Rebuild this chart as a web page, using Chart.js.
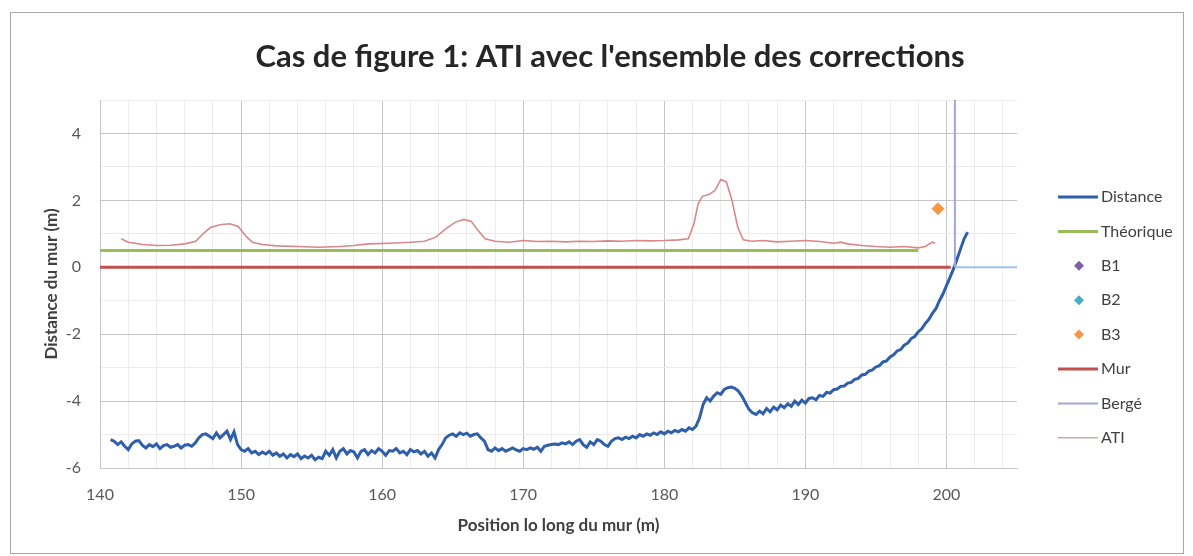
<!DOCTYPE html>
<html lang="fr">
<head>
<meta charset="utf-8">
<title>Cas de figure 1</title>
<script src="https://cdn.jsdelivr.net/npm/chart.js@4.4.1/dist/chart.umd.min.js"></script>
<style>
  html, body { margin: 0; padding: 0; background: #fff; }
  #cadre { position: relative; width: 1193px; height: 556px; }
  #bord { position: absolute; left: 10px; top: 12px; width: 1172px; height: 540px; border: 1px solid #a6a6a6; pointer-events: none; }
  canvas { position: absolute; left: 0; top: 0; }
</style>
</head>
<body>
<div id="cadre">
  <canvas id="graphATI" width="1193" height="556"></canvas>
  <div id="bord"></div>
</div>
<script>
// Distance mesurée : un point tous les 0.25 m à partir de 140.75 m (4 valeurs par ligne)
const distDebut = 140.75;
const distPas = 0.25;
const distValeurs = [
  -5.15, -5.2, -5.3, -5.22,
  -5.35, -5.45, -5.28, -5.2,
  -5.18, -5.32, -5.4, -5.3,
  -5.36, -5.28, -5.42, -5.33,
  -5.3, -5.38, -5.35, -5.3,
  -5.4, -5.32, -5.3, -5.35,
  -5.25, -5.1, -5.0, -4.98,
  -5.05, -5.12, -4.95, -5.1,
  -5.0, -4.9, -5.15, -4.92,
  -5.3, -5.45, -5.5, -5.42,
  -5.55, -5.5, -5.6, -5.52,
  -5.58, -5.5, -5.62, -5.55,
  -5.65, -5.58, -5.7, -5.6,
  -5.66, -5.58, -5.72, -5.64,
  -5.7, -5.62, -5.75, -5.68,
  -5.72, -5.5, -5.62, -5.45,
  -5.7, -5.5, -5.42, -5.58,
  -5.48, -5.52, -5.7, -5.5,
  -5.45, -5.6, -5.48, -5.55,
  -5.42, -5.5, -5.62, -5.48,
  -5.5, -5.42, -5.55, -5.5,
  -5.6, -5.45, -5.52, -5.48,
  -5.58, -5.5, -5.65, -5.55,
  -5.7, -5.45, -5.3, -5.1,
  -5.02, -4.98, -5.05, -4.95,
  -5.0, -4.96, -5.05, -5.0,
  -4.98, -5.1, -5.2, -5.45,
  -5.5, -5.4, -5.48, -5.42,
  -5.5, -5.45, -5.4, -5.46,
  -5.5, -5.42, -5.45, -5.4,
  -5.44, -5.38, -5.5, -5.35,
  -5.32, -5.3, -5.28, -5.3,
  -5.25, -5.28, -5.22, -5.3,
  -5.2, -5.15, -5.3, -5.38,
  -5.22, -5.3, -5.15, -5.2,
  -5.3, -5.35, -5.2, -5.12,
  -5.1, -5.15, -5.08, -5.12,
  -5.05, -5.1, -5.0, -5.05,
  -4.98, -5.02, -4.95, -5.0,
  -4.92, -4.98, -4.9, -4.95,
  -4.88, -4.92, -4.85, -4.9,
  -4.8, -4.85, -4.75, -4.5,
  -4.1, -3.9, -4.0, -3.85,
  -3.75, -3.8, -3.65, -3.6,
  -3.58, -3.62, -3.7, -3.85,
  -4.05, -4.25, -4.35, -4.4,
  -4.3, -4.38, -4.22, -4.32,
  -4.18, -4.26, -4.12, -4.2,
  -4.08, -4.16, -4.0, -4.1,
  -3.97, -4.06, -3.92, -3.9,
  -3.96, -3.83, -3.86, -3.74,
  -3.76, -3.66, -3.64, -3.56,
  -3.55, -3.46, -3.44, -3.35,
  -3.32, -3.22, -3.2, -3.1,
  -3.07, -2.98, -2.94, -2.83,
  -2.8, -2.68, -2.62, -2.5,
  -2.46, -2.33, -2.27, -2.13,
  -2.07, -1.93, -1.84, -1.68,
  -1.56, -1.38, -1.24, -1.0,
  -0.8, -0.55, -0.3, -0.05,
  0.25, 0.55, 0.85, 1.05
];

// ATI corrigé
const atiX = [141.5, 142, 142.5, 143, 144, 145, 146, 146.8, 147.3, 147.8, 148.5, 149.2, 149.8, 150.3, 150.8,
  151.5, 152.5, 154, 155.5, 157, 158, 159, 160.5, 162, 163, 163.8, 164.5, 165.2, 165.8, 166.3, 166.8,
  167.3, 168, 169, 170, 171, 172, 173, 174, 175, 176, 177, 178, 179, 180, 181, 181.7, 182.1, 182.4,
  182.7, 183.2, 183.6, 184.0, 184.4, 184.8, 185.2, 185.6, 186.2, 187, 188, 189, 190, 191, 192, 192.5,
  193, 194, 195, 196, 197, 198, 198.5, 199, 199.2];
const atiY = [0.85, 0.75, 0.72, 0.68, 0.65, 0.66, 0.7, 0.78, 1.0, 1.18, 1.27, 1.3, 1.22, 0.95, 0.75,
  0.68, 0.64, 0.62, 0.6, 0.62, 0.65, 0.7, 0.72, 0.75, 0.78, 0.9, 1.15, 1.35, 1.43, 1.38, 1.1,
  0.85, 0.78, 0.75, 0.8, 0.77, 0.78, 0.76, 0.78, 0.77, 0.79, 0.78, 0.8, 0.79, 0.8, 0.82, 0.85, 1.3, 1.9,
  2.12, 2.18, 2.3, 2.62, 2.55, 2.0, 1.2, 0.82, 0.78, 0.8, 0.76, 0.78, 0.8, 0.77, 0.72, 0.75,
  0.7, 0.65, 0.62, 0.6, 0.62, 0.58, 0.62, 0.75, 0.72];

// Lignes de référence
const theoriqueX = [140, 198];
const theoriqueY = [0.5, 0.5];
const murX = [140, 200.3];
const murY = [0, 0];
const bergeX = [205, 200.6, 200.6];
const bergeY = [0, 0, 5];

// Points B1, B2, B3
const b1X = [];
const b1Y = [];
const b2X = [];
const b2Y = [];
const b3X = [199.4];
const b3Y = [1.75];

const titre = "Cas de figure 1: ATI avec l'ensemble des corrections";
const police = 'Lato, "Open Sans", sans-serif';

function enPoints(xs, ys) {
  return xs.map((x, i) => ({ x: x, y: ys[i] }));
}

// Titre et légende dessinés autour de la zone du graphique
const titreEtLegende = {
  id: 'titreEtLegende',
  afterDraw(chart) {
    const ctx = chart.ctx;
    ctx.save();
    ctx.fillStyle = '#262626';
    ctx.font = 'bold 31px ' + police;
    ctx.textAlign = 'center';
    ctx.textBaseline = 'middle';
    ctx.fillText(titre, 610, 57);

    chart.data.datasets.forEach((ds, i) => {
      const y = 197 + i * 34.4;
      if (ds.showLine === false) {
        ctx.fillStyle = ds.backgroundColor;
        ctx.beginPath();
        ctx.moveTo(1079, y - 5);
        ctx.lineTo(1084, y);
        ctx.lineTo(1079, y + 5);
        ctx.lineTo(1074, y);
        ctx.closePath();
        ctx.fill();
      } else {
        ctx.strokeStyle = ds.couleurLegende || ds.borderColor;
        ctx.lineWidth = ds.borderWidth;
        ctx.beginPath();
        ctx.moveTo(1058, y);
        ctx.lineTo(1098, y);
        ctx.stroke();
      }
      ctx.fillStyle = '#404040';
      ctx.font = '16px ' + police;
      ctx.textBaseline = 'middle';
      ctx.textAlign = 'left';
      ctx.fillText(ds.label, 1101, y);
    });
    ctx.restore();
  }
};

function createChart_ATI() {
  const ctx = document.getElementById('graphATI');
  const distance = distValeurs.map((v, i) => ({ x: distDebut + i * distPas, y: v }));
  const majeur = '#c6c6c6';
  const mineur = '#ececec';

  new Chart(ctx, {
    type: 'scatter',
    data: {
      datasets: [
        { label: 'Distance', data: distance, showLine: true, borderColor: '#2f5fab', borderWidth: 3, pointRadius: 0, order: 2 },
        { label: 'Théorique', data: enPoints(theoriqueX, theoriqueY), showLine: true, borderColor: '#9bbb59', borderWidth: 3, pointRadius: 0, order: 7 },
        { label: 'B1', data: enPoints(b1X, b1Y), showLine: false, backgroundColor: '#7f60a8', borderColor: '#7f60a8', pointStyle: 'rectRot', pointRadius: 6, order: 6 },
        { label: 'B2', data: enPoints(b2X, b2Y), showLine: false, backgroundColor: '#4bacc6', borderColor: '#4bacc6', pointStyle: 'rectRot', pointRadius: 6, order: 5 },
        { label: 'B3', data: enPoints(b3X, b3Y), showLine: false, backgroundColor: '#f79646', borderColor: '#f79646', pointStyle: 'rectRot', pointRadius: 6, order: 4 },
        { label: 'Mur', data: enPoints(murX, murY), showLine: true, borderColor: '#c0504d', borderWidth: 3, pointRadius: 0, order: 3 },
        {
          label: 'Bergé', data: enPoints(bergeX, bergeY), showLine: true, borderColor: '#a4a8d8', borderWidth: 2, pointRadius: 0, order: 1,
          segment: { borderColor: c => c.p0.parsed.y === c.p1.parsed.y ? '#9fc3e6' : '#a4a8d8' }
        },
        { label: 'ATI', data: enPoints(atiX, atiY), showLine: true, borderColor: '#d9878a', borderWidth: 1.6, pointRadius: 0, order: 0, couleurLegende: '#d4a5a6' }
      ]
    },
    options: {
      responsive: false,
      animation: false,
      devicePixelRatio: 1,
      layout: { padding: { left: 30, right: 176, top: 100, bottom: 18 } },
      plugins: {
        legend: { display: false },
        tooltip: { enabled: false },
        title: { display: false }
      },
      scales: {
        x: {
          type: 'linear',
          min: 140,
          max: 205,
          afterFit: s => { s.height = 70; },
          ticks: {
            stepSize: 2,
            includeBounds: false,
            autoSkip: false,
            maxRotation: 0,
            padding: 17,
            color: '#595959',
            font: { family: police, size: 16 },
            callback: v => (v % 10 === 0 ? String(v) : '')
          },
          grid: {
            drawTicks: false,
            color: c => (c.tick && c.tick.value % 10 === 0 ? majeur : mineur)
          },
          border: { display: true, color: majeur },
          title: {
            display: true,
            text: 'Position lo long du mur (m)',
            color: '#404040',
            font: { family: police, size: 17, weight: 'bold', lineHeight: 1.2 },
            padding: { top: 0, bottom: 2 }
          }
        },
        y: {
          type: 'linear',
          min: -6,
          max: 5,
          afterFit: s => { s.width = 70; },
          ticks: {
            stepSize: 1,
            autoSkip: false,
            padding: 19,
            color: '#595959',
            font: { family: police, size: 16 },
            callback: v => (v % 2 === 0 ? String(v) : '')
          },
          grid: {
            drawTicks: false,
            color: c => (c.tick && c.tick.value % 2 === 0 ? majeur : mineur)
          },
          border: { display: true, color: majeur },
          title: {
            display: true,
            text: 'Distance du mur (m)',
            color: '#404040',
            font: { family: police, size: 17, weight: 'bold', lineHeight: 1.2 },
            padding: { top: 11, bottom: 0 }
          }
        }
      }
    },
    plugins: [titreEtLegende]
  });
}

createChart_ATI();
</script>
</body>
</html>
